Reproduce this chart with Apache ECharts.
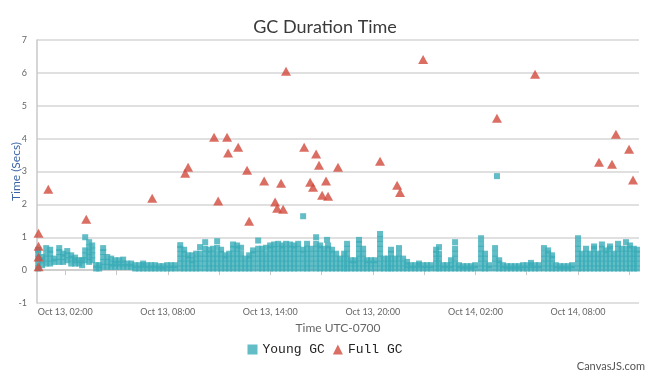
<!DOCTYPE html>
<html>
<head>
<meta charset="utf-8">
<script src="https://cdn.jsdelivr.net/npm/echarts@6/dist/echarts.min.js"></script>
<style>html,body{margin:0;padding:0;background:#fff;}#c{width:650px;height:375px;}</style>
</head>
<body>
<div id="c"></div>
<script>
// Hours since Oct 13 00:00 (UTC-0700)
const xMin = 0.35, xMax = 35.57;
const labelHours = [2, 8, 14, 20, 26, 32];
const tickHours = [2, 5, 8, 11, 14, 17, 20, 23, 26, 29, 32, 35];
const yTicks = [-1, 0, 1, 2, 3, 4, 5, 6, 7];

// Young GC: each entry = [hour, [durations at that time]]
const youngColumns = [
  [0.42,[0.05,0.2,0.35,0.5,0.62]],[0.65,[0.15,0.3,0.4]],[0.89,[0.2,0.35,0.5,0.67]],[1.12,[0.2,0.35,0.5,0.62]],
  [1.36,[0.25,0.35]],[1.65,[0.25,0.4,0.55,0.67]],[1.88,[0.25,0.4,0.5]],[2.12,[0.3,0.45,0.58]],
  [2.35,[0.2,0.35,0.45]],[2.58,[0.2,0.3,0.38]],[2.82,[0.2,0.3]],[2.99,[0.15,0.3]],
  [3.17,[0.3,0.45,0.6,1.0]],[3.40,[0.25,0.4,0.55,0.7,0.85]],[3.58,[0.3,0.45,0.6,0.75]],[3.81,[0.05,0.15]],
  [3.99,[0.05,0.15]],[4.22,[0.1,0.25,0.4,0.55,0.67]],[4.46,[0.1,0.25,0.4]],[4.69,[0.1,0.2,0.35]],
  [4.92,[0.1,0.2,0.3]],[5.16,[0.1,0.2,0.3]],[5.39,[0.1,0.2,0.32]],[5.63,[0.1,0.2]],[5.86,[0.1,0.2]],
  [6.09,[0.05,0.15]],[6.33,[0.05,0.15]],[6.56,[0.05,0.15,0.2]],[6.80,[0.05,0.15]],[7.03,[0.05,0.15]],
  [7.26,[0.05,0.15]],[7.50,[0.05,0.12]],[7.73,[0.05,0.12]],[7.96,[0.05,0.15]],[8.20,[0.05,0.15]],[8.43,[0.05,0.15]],
  [8.73,[0.05,0.2,0.35,0.5,0.65,0.76]],[8.96,[0.05,0.2,0.35,0.5,0.62]],[9.19,[0.05,0.2,0.35,0.45]],
  [9.43,[0.05,0.2,0.3,0.45]],[9.66,[0.05,0.2,0.35,0.5]],[9.89,[0.05,0.2,0.35,0.5,0.7]],
  [10.19,[0.05,0.2,0.35,0.5,0.65,0.85]],[10.42,[0.05,0.2,0.35,0.5,0.62]],[10.65,[0.05,0.2,0.35,0.5,0.65]],
  [10.89,[0.05,0.2,0.35,0.5,0.68,0.88]],[11.12,[0.05,0.2,0.35,0.5,0.62]],[11.36,[0.05,0.2,0.35,0.45]],
  [11.59,[0.05,0.2,0.35,0.5]],[11.82,[0.05,0.2,0.35,0.5,0.65,0.78]],[12.06,[0.05,0.2,0.35,0.5,0.65,0.75]],
  [12.29,[0.05,0.2,0.35,0.5,0.68]],[12.53,[0.05,0.2,0.35]],[12.76,[0.05,0.2,0.35,0.45]],
  [12.99,[0.05,0.2,0.35,0.5,0.6]],[13.29,[0.05,0.2,0.35,0.5,0.65,0.9]],[13.52,[0.05,0.2,0.35,0.5,0.65]],
  [13.75,[0.05,0.2,0.35,0.5,0.68]],[13.99,[0.05,0.2,0.35,0.5,0.65,0.75]],[14.22,[0.05,0.2,0.35,0.5,0.65,0.78]],
  [14.46,[0.05,0.2,0.35,0.5,0.65,0.8]],[14.69,[0.05,0.2,0.35,0.5,0.65,0.75]],[14.92,[0.05,0.2,0.35,0.5,0.65,0.8]],
  [15.16,[0.05,0.2,0.35,0.5,0.65,0.78]],[15.39,[0.05,0.2,0.35,0.5,0.65,0.75]],[15.63,[0.05,0.2,0.35,0.5,0.65,0.8]],
  [15.92,[0.05,0.2,0.35,0.5,0.62,1.64]],[16.15,[0.05,0.2,0.35,0.5,0.65,0.8]],[16.39,[0.05,0.2,0.35,0.5,0.65]],
  [16.68,[0.05,0.2,0.35,0.5,0.65,0.8,1.0]],[16.91,[0.05,0.2,0.35,0.5,0.65,0.75]],[17.15,[0.05,0.2,0.35,0.5,0.65]],
  [17.32,[0.92]],[17.38,[0.05,0.2,0.35,0.5,0.65,0.75]],[17.61,[0.05,0.2,0.35,0.5,0.62]],[17.85,[0.05,0.2,0.35,0.5]],
  [18.08,[0.05,0.2,0.35]],[18.32,[0.05,0.2,0.35,0.5]],[18.49,[0.05,0.2,0.35,0.5,0.65,0.8]],[18.73,[0.05,0.2,0.3]],
  [18.96,[0.05,0.2,0.3]],[19.19,[0.05,0.2,0.35,0.5,0.65,0.8,0.92]],[19.43,[0.05,0.2,0.35,0.5,0.65]],
  [19.66,[0.05,0.2,0.3]],[19.89,[0.05,0.2,0.3]],[20.13,[0.05,0.2,0.3]],[20.42,[0.05,0.2,0.35,0.5,0.65,0.8,0.95,1.1]],
  [20.65,[0.05,0.2,0.35]],[20.89,[0.05,0.2,0.35]],[21.06,[0.05,0.2,0.35,0.5,0.62]],[21.30,[0.05,0.2,0.35]],
  [21.53,[0.05,0.2,0.35,0.5,0.67]],[21.77,[0.05,0.2,0.35]],[22.00,[0.05,0.15,0.25]],[22.23,[0.05,0.15]],
  [22.47,[0.05,0.15]],[22.70,[0.05,0.15,0.2]],[22.94,[0.05,0.15]],[23.17,[0.05,0.15]],[23.40,[0.05,0.15]],
  [23.70,[0.05,0.2,0.35,0.5,0.62]],[23.87,[0.05,0.2,0.35,0.5,0.7]],[24.11,[0.05,0.15]],[24.34,[0.05,0.15]],
  [24.57,[0.05,0.15,0.3]],[24.81,[0.05,0.2,0.35,0.5,0.65,0.85]],[25.04,[0.05,0.15]],[25.27,[0.05,0.12]],
  [25.51,[0.05,0.12]],[25.74,[0.05,0.12]],[25.98,[0.05,0.15]],[26.33,[0.05,0.2,0.35,0.5,0.65,0.8,0.97]],
  [26.56,[0.05,0.2,0.35,0.5]],[26.80,[0.05,0.15]],[27.15,[0.05,0.2,0.35,0.5,0.67]],[27.26,[2.86]],
  [27.39,[0.05,0.2,0.3]],[27.61,[0.05,0.15]],[27.85,[0.05,0.12]],[28.08,[0.05,0.12]],[28.32,[0.05,0.12]],
  [28.55,[0.05,0.12]],[28.78,[0.05,0.15]],[29.02,[0.05,0.15]],[29.25,[0.05,0.15,0.22]],[29.49,[0.05,0.15]],
  [29.72,[0.05,0.15]],[30.01,[0.05,0.2,0.35,0.5,0.67]],[30.25,[0.05,0.2,0.35,0.5,0.6]],[30.48,[0.05,0.2,0.35,0.45]],
  [30.71,[0.05,0.15]],[30.95,[0.05,0.12]],[31.18,[0.05,0.12]],[31.42,[0.05,0.12]],[31.65,[0.05,0.15]],
  [32.00,[0.05,0.2,0.35,0.5,0.65,0.8,0.97]],[32.23,[0.05,0.2,0.35,0.5]],[32.47,[0.05,0.2,0.35,0.5,0.65]],
  [32.70,[0.05,0.2,0.35,0.5]],[32.94,[0.05,0.2,0.35,0.5,0.65,0.72]],[33.17,[0.05,0.2,0.35,0.5]],
  [33.40,[0.05,0.2,0.35,0.5,0.65,0.78]],[33.64,[0.05,0.2,0.35,0.5,0.6]],[33.87,[0.05,0.2,0.35,0.5,0.65,0.72]],
  [34.11,[0.05,0.2,0.35,0.5]],[34.34,[0.05,0.2,0.35,0.5,0.65,0.8]],[34.57,[0.05,0.2,0.35,0.5,0.65]],
  [34.81,[0.05,0.2,0.35,0.5,0.65,0.85]],[35.04,[0.05,0.2,0.35,0.5,0.65,0.75]],[35.27,[0.05,0.2,0.35,0.5,0.65]],
  [35.45,[0.05,0.2,0.35,0.5,0.62]]
];

// Full GC
const fullTime = [0.44,0.44,0.44,0.44,1.01,3.23,7.09,9.02,9.19,10.71,10.95,11.47,11.53,12.12,12.64,12.76,
  13.64,14.28,14.40,14.63,14.75,14.92,15.98,16.33,16.50,16.68,16.85,17.03,17.26,17.38,17.96,20.42,21.42,
  21.59,22.94,27.26,29.49,33.23,33.99,34.22,34.99,35.22];
const fullValue = [1.12,0.73,0.4,0.1,2.46,1.55,2.19,2.95,3.13,4.04,2.10,4.04,3.56,3.74,3.04,1.49,
  2.71,2.07,1.88,2.64,1.85,6.05,3.74,2.67,2.52,3.53,3.19,2.28,2.71,2.25,3.13,3.31,2.58,
  2.36,6.41,4.62,5.96,3.28,3.22,4.13,3.68,2.74];

const youngData = [];
youngColumns.forEach(function(c){ c[1].forEach(function(v){ youngData.push([c[0], v]); }); });
const fullData = fullTime.map(function(t, i){ return [t, fullValue[i]]; });

function fmtHour(h){
  const day = 13 + Math.floor(h / 24);
  const hh = Math.round(h % 24);
  return 'Oct ' + day + ', ' + (hh < 10 ? '0' : '') + hh + ':00';
}

const chart = echarts.init(document.getElementById('c'), null, {renderer: 'canvas'});
chart.setOption({
  animation: false,
  backgroundColor: '#ffffff',
  title: {
    text: 'GC Duration Time', left: 'center', top: 13,
    textStyle: {fontFamily: 'Lato', fontSize: 18, fontWeight: 'normal', color: '#3a3a3a'}
  },
  grid: {left: 37, right: 11, top: 40, bottom: 72, outerBoundsMode: 'none', containLabel: false},
  legend: {
    bottom: 14, left: 'center', itemGap: 8, itemWidth: 10, itemHeight: 10,
    textStyle: {fontFamily: 'Liberation Mono', fontSize: 13, color: '#222'},
    data: [{name: 'Young GC', icon: 'rect'}, {name: 'Full GC', icon: 'triangle'}]
  },
  graphic: [{
    type: 'text', right: 5, bottom: 3,
    style: {text: 'CanvasJS.com', fontFamily: 'Lato', fontSize: 11, fill: '#555'}
  }],
  xAxis: {
    type: 'value', min: xMin, max: xMax,
    name: 'Time UTC-0700', nameLocation: 'middle', nameGap: 19, nameMoveOverlap: false,
    nameTextStyle: {fontFamily: 'Lato', fontSize: 12, color: '#666'},
    axisLine: {show: true, lineStyle: {color: '#c8c8c8', width: 1.5}},
    axisTick: {show: true, customValues: tickHours, length: 5, lineStyle: {color: '#c8c8c8'}},
    axisLabel: {customValues: labelHours, formatter: fmtHour, fontFamily: 'Lato', fontSize: 9, color: '#666', margin: 5},
    splitLine: {show: false}
  },
  yAxis: {
    type: 'value', min: -1, max: 7, interval: 1,
    name: 'Time (Secs)', nameLocation: 'middle', nameGap: 15, nameMoveOverlap: false,
    nameTextStyle: {fontFamily: 'Lato', fontSize: 12, color: '#3b64a8'},
    axisLine: {show: true, lineStyle: {color: '#c8c8c8', width: 1.5}},
    axisTick: {show: false},
    axisLabel: {fontFamily: 'Lato', fontSize: 9, color: '#666', margin: 10,
      formatter: function(v){ return yTicks.indexOf(v) >= 0 ? String(v) : ''; }},
    splitLine: {show: true, lineStyle: {color: '#d6d6d6', width: 1.5}}
  },
  series: [
    {name: 'Young GC', type: 'scatter', symbol: 'rect', symbolSize: 6, data: youngData,
     itemStyle: {color: '#3badb8'}},
    {name: 'Full GC', type: 'scatter', symbol: 'triangle', symbolSize: [10, 9], data: fullData,
     itemStyle: {color: '#d24a3c'}}
  ]
});
</script>
</body>
</html>
